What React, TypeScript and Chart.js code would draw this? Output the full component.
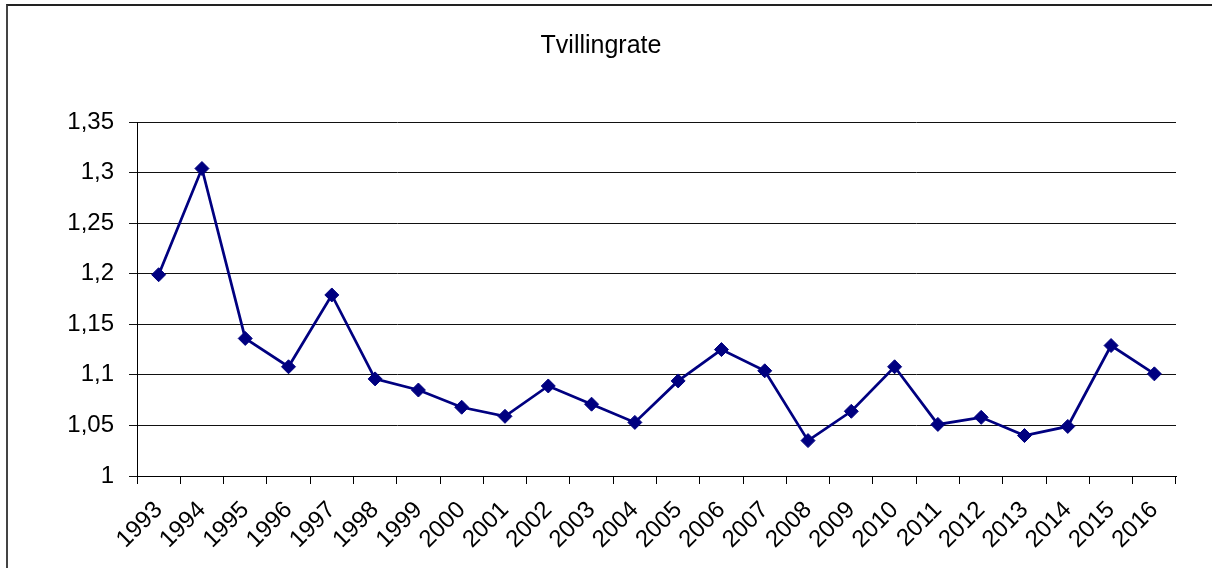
import React, { useEffect, useRef } from "react";
import { Chart, registerables } from "chart.js";

Chart.register(...registerables);

const years: string[] = [
  "1993", "1994", "1995", "1996", "1997", "1998", "1999", "2000",
  "2001", "2002", "2003", "2004", "2005", "2006", "2007", "2008",
  "2009", "2010", "2011", "2012", "2013", "2014", "2015", "2016",
];

const twinRate: number[] = [
  1.199, 1.304, 1.136, 1.108, 1.179, 1.096, 1.085, 1.068,
  1.059, 1.089, 1.071, 1.053, 1.094, 1.125, 1.104, 1.035,
  1.064, 1.108, 1.051, 1.058, 1.040, 1.049, 1.129, 1.101,
];

const chartTitle = "Tvillingrate";
const yMin = 1;
const yMax = 1.35;
const yStep = 0.05;

const FONT = "'Liberation Sans', Arial, Helvetica, sans-serif";

export default function App() {
  const canvasRef = useRef<HTMLCanvasElement | null>(null);

  useEffect(() => {
    const canvas = canvasRef.current;
    if (!canvas) return;
    const chart = new Chart(canvas, {
      type: "line",
      data: {
        labels: years,
        datasets: [
          {
            label: chartTitle,
            data: twinRate,
            borderColor: "#000080",
            backgroundColor: "#000080",
            borderWidth: 2.75,
            tension: 0,
            pointStyle: "rectRot",
            pointRadius: 7,
            pointBorderWidth: 1,
            pointBackgroundColor: "#000080",
            pointBorderColor: "#000080",
          },
        ],
      },
      options: {
        responsive: false,
        devicePixelRatio: 1,
        animation: false,
        layout: { padding: { left: 26, right: 36, top: 0, bottom: 0 } },
        plugins: {
          legend: { display: false },
          tooltip: { enabled: false },
          title: {
            display: true,
            text: chartTitle,
            color: "#000000",
            font: { family: FONT, size: 25, weight: "normal", lineHeight: 1.2 },
            padding: { top: 31, bottom: 61 },
          },
        },
        scales: {
          x: {
            type: "category",
            offset: true,
            grid: {
              display: true,
              offset: true,
              drawOnChartArea: false,
              drawTicks: true,
              tickLength: 8,
              color: "#000000",
              lineWidth: 1,
            },
            border: { display: true, color: "#000000", width: 1 },
            ticks: {
              maxRotation: 45,
              minRotation: 45,
              autoSkip: false,
              color: "#000000",
              padding: 12,
              font: { family: FONT, size: 24 },
            },
            afterFit: (scale: any) => {
              scale.height = 92;
            },
          },
          y: {
            min: yMin,
            max: yMax,
            grid: {
              display: true,
              drawOnChartArea: true,
              drawTicks: true,
              tickLength: 8,
              color: "#111111",
              lineWidth: 1,
            },
            border: { display: true, color: "#000000", width: 1 },
            ticks: {
              stepSize: yStep,
              color: "#000000",
              padding: 15,
              font: { family: FONT, size: 24 },
              callback: (v: any) =>
                String(Number(Number(v).toFixed(2))).replace(".", ","),
            },
            afterFit: (scale: any) => {
              scale.width = 111;
            },
          },
        },
      },
    });
    return () => chart.destroy();
  }, []);

  return (
    <div
      style={{
        position: "fixed",
        left: 0,
        top: 0,
        width: 1212,
        height: 568,
        background: "#ffffff",
        overflow: "hidden",
      }}
    >
      <canvas
        ref={canvasRef}
        width={1212}
        height={568}
        style={{ position: "absolute", left: 0, top: 0, width: 1212, height: 568 }}
      />
      <div
        style={{
          position: "absolute",
          left: 6,
          top: 4,
          width: 1212,
          height: 568,
          borderTop: "2px solid #222222",
          borderLeft: "2px solid #444444",
          pointerEvents: "none",
        }}
      />
    </div>
  );
}
